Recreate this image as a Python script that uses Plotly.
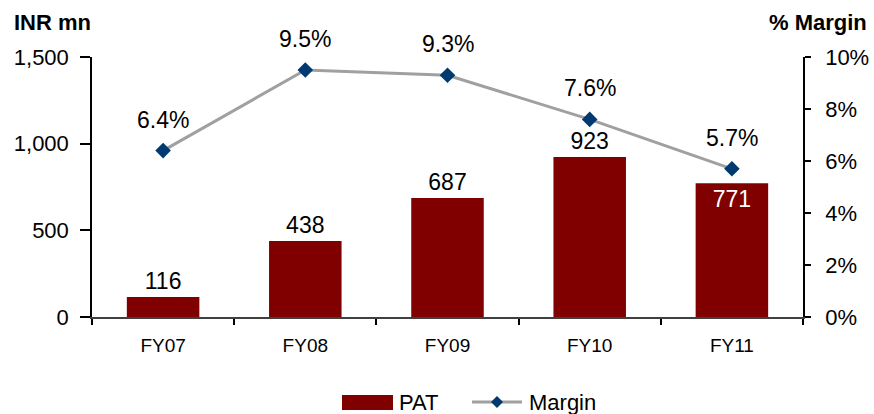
import plotly.graph_objects as go

# Profit after tax (INR mn) and margin by fiscal year
years = ["FY07", "FY08", "FY09", "FY10", "FY11"]
pat = [116, 438, 687, 923, 771]
margin = [0.064, 0.095, 0.093, 0.076, 0.057]

FONT = "Liberation Sans, Arial, sans-serif"
BAR = "#800000"
LINE = "#a0a0a0"
MARK = "#003a70"

# Plot-area geometry in pixels, used to place the hand-drawn legend
W, H = 874, 414
ML, MR, MT, MB = 92, 71, 57, 97
PW, PH = W - ML - MR, H - MT - MB


def px_x(px):
    return (px - ML) / PW


def px_y(py):
    return (H - MB - py) / PH


fig = go.Figure()

fig.add_trace(go.Bar(
    x=years, y=pat, name="PAT",
    marker=dict(color=BAR, line=dict(width=0)),
    width=0.51,
    text=[f"{v:,}" for v in pat],
    textposition=["outside", "outside", "outside", "outside", "inside"],
    insidetextanchor="end",
    outsidetextfont=dict(family=FONT, size=23, color="black"),
    insidetextfont=dict(family=FONT, size=23, color="white"),
    cliponaxis=False,
    showlegend=False,
))

fig.add_trace(go.Scatter(
    x=years, y=margin, name="Margin", yaxis="y2",
    mode="lines+markers",
    line=dict(color=LINE, width=3),
    marker=dict(symbol="diamond", size=12, color=MARK),
    cliponaxis=False,
    showlegend=False,
))

# Margin labels above each point
for yr, m in zip(years, margin):
    fig.add_annotation(
        x=yr, y=m, yref="y2", text=f"{m * 100:.1f}%",
        showarrow=False, yshift=31,
        font=dict(family=FONT, size=23, color="black"),
    )

# Axis titles
fig.add_annotation(
    x=px_x(12), xref="paper", xanchor="left",
    y=px_y(22), yref="paper", yanchor="middle",
    text="<b>INR mn</b>", showarrow=False,
    font=dict(family=FONT, size=22, color="black"),
)
fig.add_annotation(
    x=px_x(869), xref="paper", xanchor="right",
    y=px_y(22), yref="paper", yanchor="middle",
    text="<b>% Margin</b>", showarrow=False,
    font=dict(family=FONT, size=22, color="black"),
)

# Legend: PAT swatch and Margin line-with-diamond
ly = 402
fig.add_shape(type="rect", xref="paper", yref="paper",
              x0=px_x(342), x1=px_x(393), y0=px_y(410), y1=px_y(395),
              fillcolor=BAR, line=dict(width=0))
fig.add_annotation(x=px_x(397), xref="paper", xanchor="left",
                   y=px_y(ly), yref="paper", yanchor="middle",
                   text="PAT", showarrow=False,
                   font=dict(family=FONT, size=22, color="black"))
fig.add_shape(type="line", xref="paper", yref="paper",
              x0=px_x(472), x1=px_x(522), y0=px_y(ly), y1=px_y(ly),
              line=dict(color=LINE, width=3))
cx, r = 497, 6
fig.add_shape(type="path", xref="paper", yref="paper",
              path=(f"M {px_x(cx - r)} {px_y(ly)} L {px_x(cx)} {px_y(ly - r)} "
                    f"L {px_x(cx + r)} {px_y(ly)} L {px_x(cx)} {px_y(ly + r)} Z"),
              fillcolor=MARK, line=dict(width=0))
fig.add_annotation(x=px_x(527), xref="paper", xanchor="left",
                   y=px_y(ly), yref="paper", yanchor="middle",
                   text="Margin", showarrow=False,
                   font=dict(family=FONT, size=22, color="black"))

fig.update_layout(
    width=W, height=H,
    margin=dict(l=ML, r=MR, t=MT, b=MB, autoexpand=False),
    paper_bgcolor="white", plot_bgcolor="white",
    font=dict(family=FONT, color="black"),
    bargap=0.49,
    showlegend=False,
    xaxis=dict(
        showline=True, linecolor="#404040", linewidth=1.5,
        ticks="outside", tickson="boundaries", ticklen=6, tickcolor="black", tickwidth=1.5,
        tickfont=dict(family=FONT, size=19, color="black"),
        ticklabelstandoff=10,
        showgrid=False, zeroline=False,
    ),
    yaxis=dict(
        range=[0, 1500], dtick=500, tickformat=",",
        showline=True, linecolor="black", linewidth=1.5,
        ticks="outside", ticklen=10, tickcolor="black", tickwidth=1.5,
        tickfont=dict(family=FONT, size=22, color="black"),
        ticklabelstandoff=7,
        showgrid=False, zeroline=False,
    ),
    yaxis2=dict(
        range=[0, 0.10], dtick=0.02, tickformat=".0%",
        overlaying="y", side="right",
        showline=True, linecolor="black", linewidth=1.5,
        ticks="outside", ticklen=6, tickcolor="black", tickwidth=1.5,
        tickfont=dict(family=FONT, size=22, color="black"),
        ticklabelstandoff=10,
        showgrid=False, zeroline=False,
    ),
)

fig.write_html("out.html")
